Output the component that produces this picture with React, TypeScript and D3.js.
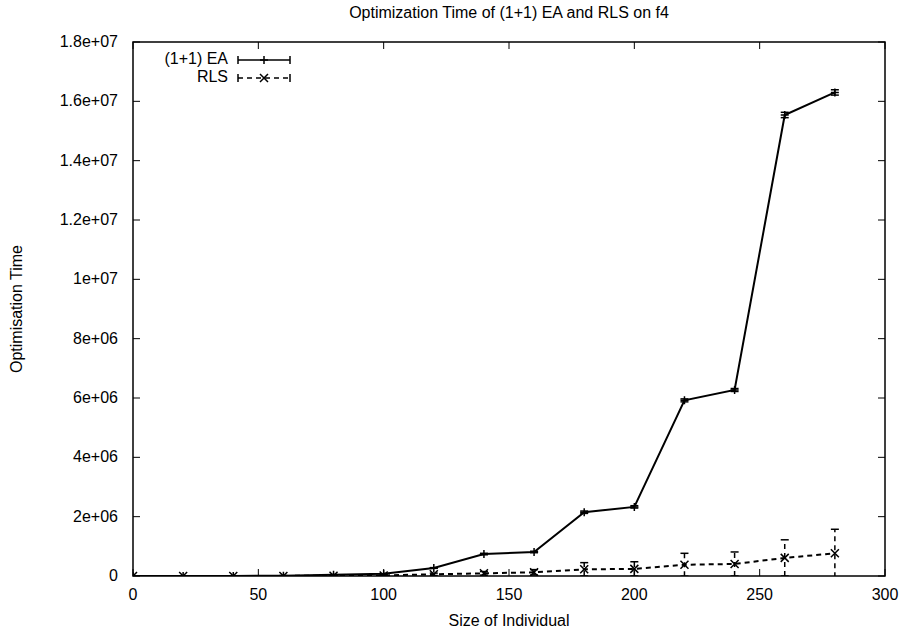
import * as d3 from "d3";

// values
const sizes = [0, 20, 40, 60, 80, 100, 120, 140, 160, 180, 200, 220, 240, 260, 280];
const eaMean = [0, 1000, 4000, 12000, 45000, 75000, 270000, 740000, 810000, 2150000, 2330000, 5920000, 6270000, 15540000, 16300000];
const eaErr = [0, 0, 0, 1000, 3000, 5000, 12000, 25000, 25000, 40000, 40000, 50000, 50000, 90000, 90000];
const rlsMean = [0, 500, 1500, 3000, 10000, 20000, 57000, 90000, 125000, 225000, 240000, 380000, 405000, 610000, 765000];
const rlsErr = [0, 300, 800, 2000, 6000, 12000, 40000, 60000, 90000, 225000, 240000, 385000, 405000, 610000, 810000];
const xTicks = [0, 50, 100, 150, 200, 250, 300];
const yTicks = [0, 2e6, 4e6, 6e6, 8e6, 1e7, 1.2e7, 1.4e7, 1.6e7, 1.8e7];
const yTickLabels = ["0", "2e+06", "4e+06", "6e+06", "8e+06", "1e+07", "1.2e+07", "1.4e+07", "1.6e+07", "1.8e+07"];
const seriesNames = ["(1+1) EA", "RLS"];

const W = 905;
const H = 630;
const left = 133;
const right = 885;
const top = 42;
const bottom = 576;
const font = "'Liberation Sans', Arial, sans-serif";

export default function App() {
  const x = d3.scaleLinear().domain([0, 300]).range([left, right]);
  const y = d3.scaleLinear().domain([0, 1.8e7]).range([bottom, top]);

  const series = [
    { name: seriesNames[0], mean: eaMean, err: eaErr, dash: undefined, marker: "plus" },
    { name: seriesNames[1], mean: rlsMean, err: rlsErr, dash: "5,4", marker: "cross" },
  ];

  const line = d3
    .line<number>()
    .x((d, i) => x(sizes[i]))
    .y((d) => y(d));

  const marker = (type: string, cx: number, cy: number, key: string) => {
    const s = 4;
    if (type === "plus") {
      return <path key={key} d={`M${cx - s},${cy}H${cx + s}M${cx},${cy - s}V${cy + s}`} stroke="#000" strokeWidth={1.5} />;
    }
    return <path key={key} d={`M${cx - s},${cy - s}L${cx + s},${cy + s}M${cx - s},${cy + s}L${cx + s},${cy - s}`} stroke="#000" strokeWidth={1.5} />;
  };

  const tickLen = 7;

  return (
    <svg width={W} height={H} style={{ display: "block", position: "absolute", left: 0, top: 0, background: "#fff" }} fontFamily={font}>
      <rect width={W} height={H} fill="#fff" />
      <defs>
        <clipPath id="plot">
          <rect x={left} y={top} width={right - left} height={bottom - top} />
        </clipPath>
      </defs>

      {/* ticks, mirrored on all sides */}
      <g stroke="#000" strokeWidth={1}>
        {xTicks.map((t) => (
          <g key={"xt" + t}>
            <line x1={x(t)} x2={x(t)} y1={bottom} y2={bottom - tickLen} />
            <line x1={x(t)} x2={x(t)} y1={top} y2={top + tickLen} />
          </g>
        ))}
        {yTicks.map((t) => (
          <g key={"yt" + t}>
            <line x1={left} x2={left + tickLen} y1={y(t)} y2={y(t)} />
            <line x1={right} x2={right - tickLen} y1={y(t)} y2={y(t)} />
          </g>
        ))}
      </g>

      <g fontSize={16} fill="#000">
        {xTicks.map((t) => (
          <text key={"xl" + t} x={x(t)} y={600} textAnchor="middle">{t}</text>
        ))}
        {yTicks.map((t, i) => (
          <text key={"yl" + t} x={left - 15} y={y(t) + 5} textAnchor="end">{yTickLabels[i]}</text>
        ))}
        <text x={(left + right) / 2} y={18} textAnchor="middle">Optimization Time of (1+1) EA and RLS on f4</text>
        <text x={(left + right) / 2} y={626} textAnchor="middle">Size of Individual</text>
        <text transform={`translate(22,${(top + bottom) / 2}) rotate(-90)`} textAnchor="middle">Optimisation Time</text>
      </g>

      <g clipPath="url(#plot)">
        {series.map((s) => (
          <g key={s.name}>
            <path d={line(s.mean) ?? ""} fill="none" stroke="#000" strokeWidth={2} strokeDasharray={s.dash} />
            {s.mean.map((m, i) => {
              const cx = x(sizes[i]);
              const y0 = y(m - s.err[i]);
              const y1 = y(m + s.err[i]);
              return (
                <g key={i} stroke="#000" strokeWidth={1.5} fill="none">
                  <line x1={cx} x2={cx} y1={y0} y2={y1} strokeDasharray={s.dash} />
                  <line x1={cx - 4} x2={cx + 4} y1={y0} y2={y0} />
                  <line x1={cx - 4} x2={cx + 4} y1={y1} y2={y1} />
                </g>
              );
            })}
            {s.mean.map((m, i) => marker(s.marker, x(sizes[i]), y(m), s.name + i))}
          </g>
        ))}
      </g>

      {/* legend */}
      {series.map((s, i) => {
        const ly = 60 + i * 18;
        return (
          <g key={"lg" + s.name}>
            <text x={228} y={ly + 4} textAnchor="end" fontSize={16}>{s.name}</text>
            <g stroke="#000" strokeWidth={1.5}>
              <line x1={238} x2={290} y1={ly} y2={ly} strokeDasharray={s.dash} />
              <line x1={238} x2={238} y1={ly - 4} y2={ly + 4} />
              <line x1={290} x2={290} y1={ly - 4} y2={ly + 4} />
            </g>
            {marker(s.marker, 264, ly, "lm" + i)}
          </g>
        );
      })}

      <rect x={left} y={top} width={right - left} height={bottom - top} fill="none" stroke="#000" strokeWidth={1.5} />
    </svg>
  );
}
